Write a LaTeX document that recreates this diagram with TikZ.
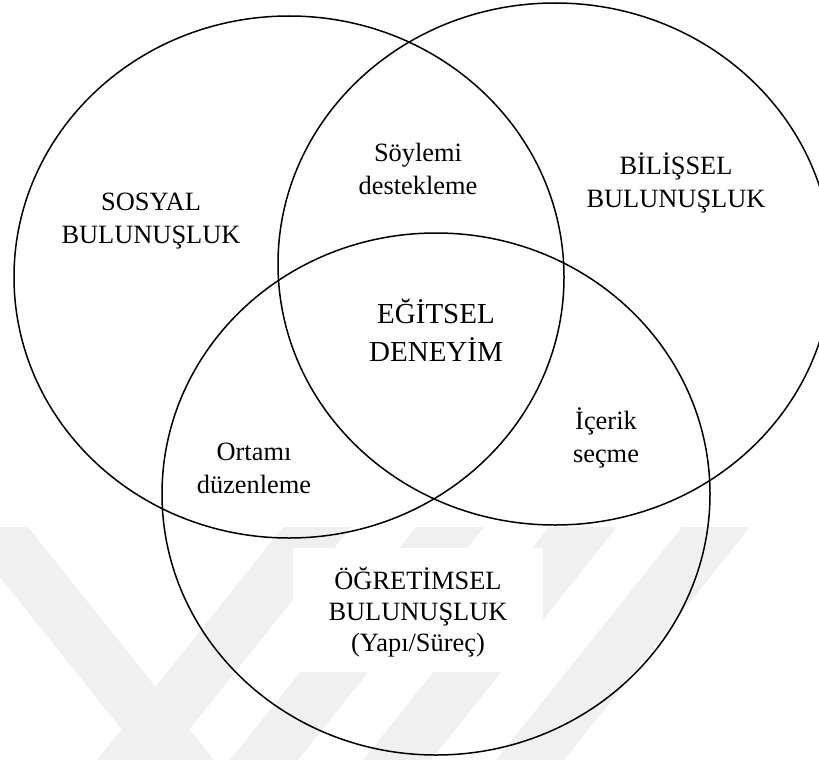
\documentclass[tikz,border=0pt]{standalone}
\usepackage{fontspec}
\setmainfont{Liberation Serif}
\begin{document}
\begin{tikzpicture}[x=1pt,y=-1pt,
  venn/.style={draw=black,line width=1.5pt},
  lbl/.style={align=center,inner sep=0pt,font=\fontsize{26.4}{33}\selectfont},
  biglbl/.style={align=center,inner sep=0pt,font=\fontsize{29}{38}\selectfont},
  wm/.style={fill=black!6,draw=none}]
\useasboundingbox (0,0) rectangle (819,760);
% faint watermark bands
\begin{scope}
\clip (0,527) rectangle (819,760);
\fill[wm] (-40,527) -- (28,527) -- (214,760) -- (146,760) -- cycle;
\foreach \a in {283,416,549,682}{
  \fill[wm] (\a,527) -- (\a+68,527) -- (\a+68-186,760) -- (\a-186,760) -- cycle;
}
\end{scope}
\fill[white] (293,548) rectangle (543,672);
% circles
\draw[venn] (289,277) ellipse [x radius=275, y radius=261];
\draw[venn] (555,264) ellipse [x radius=277, y radius=261];
\draw[venn] (436,494) ellipse [x radius=274, y radius=261];
% labels
\node[lbl] (sosyal) at (151,221.5) {SOSYAL\\BULUNUŞLUK};
\node[lbl] (bilissel) at (676,183) {BİLİŞSEL\\BULUNUŞLUK};
\node[lbl] (soylemi) at (418,168.5) {Söylemi\\destekleme};
\node[biglbl] (egitsel) at (436,330) {EĞİTSEL\\DENEYİM};
\node[lbl] (icerik) at (606,437.5) {İçerik\\seçme};
\node[lbl] (ortami) at (254,468.5) {Ortamı\\düzenleme};
\node[lbl,font=\fontsize{26.4}{31}\selectfont] (ogretimsel) at (418,612) {ÖĞRETİMSEL\\BULUNUŞLUK\\(Yapı/Süreç)};
\end{tikzpicture}
\end{document}
